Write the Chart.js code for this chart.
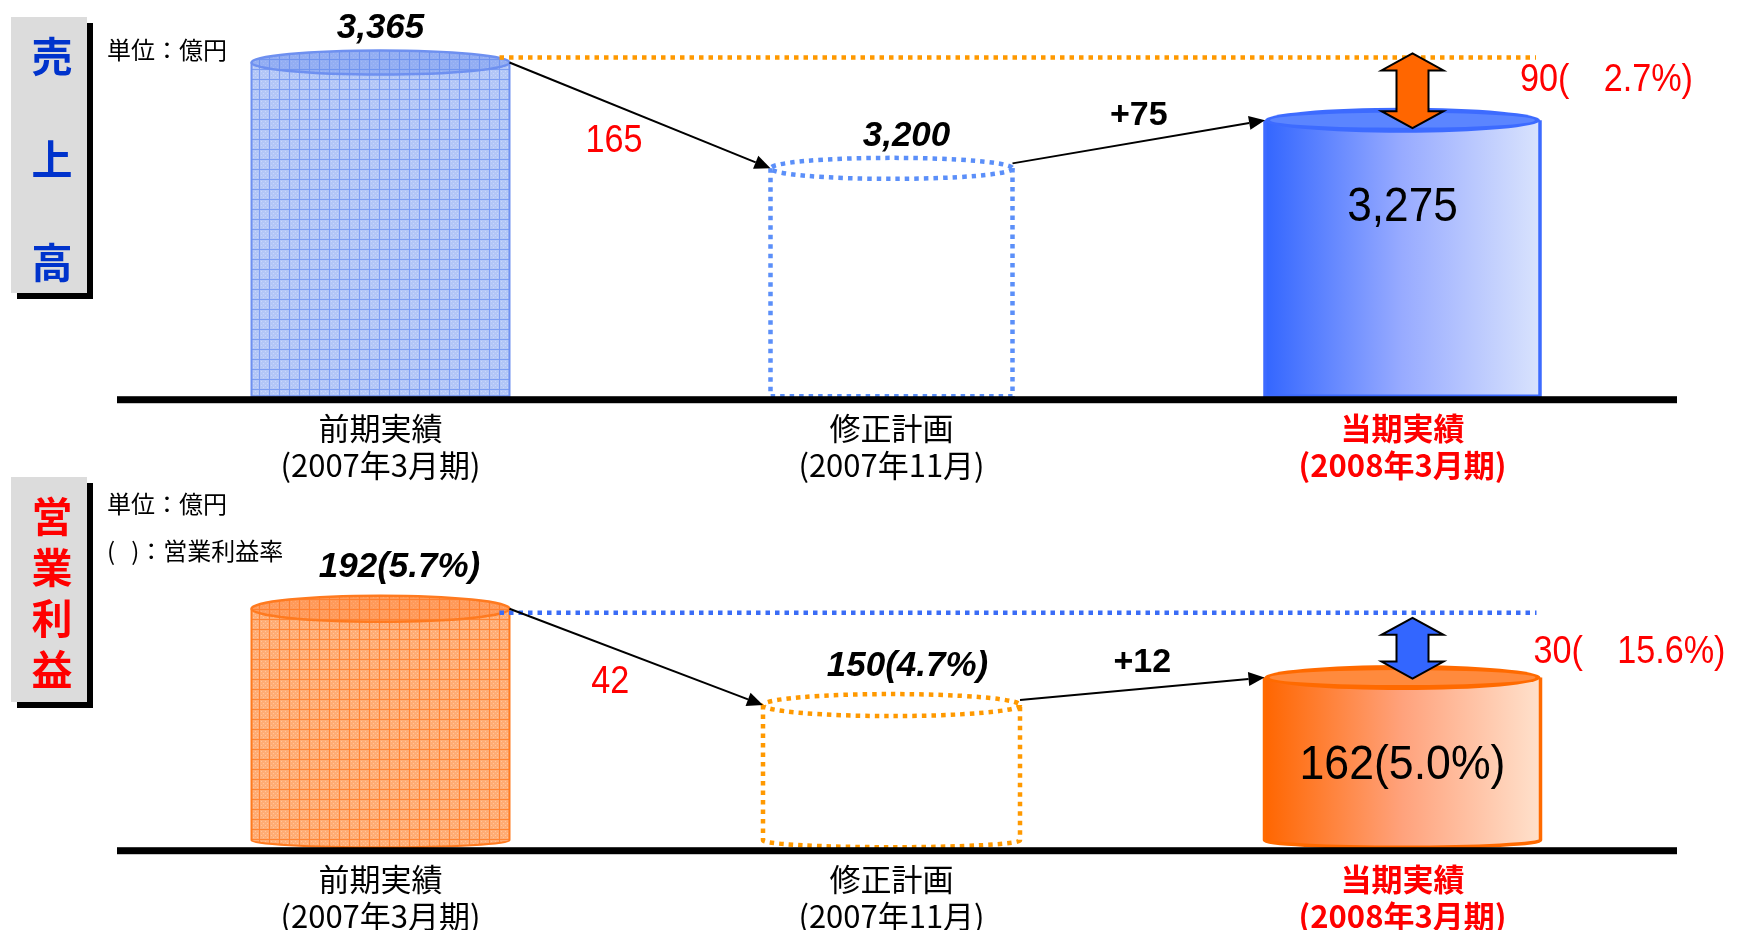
<!DOCTYPE html>
<html lang="ja">
<head>
<meta charset="utf-8">
<title>売上高・営業利益</title>
<script src="https://cdn.jsdelivr.net/npm/chart.js@4.4.1/dist/chart.umd.min.js"></script>
<style>
  html, body { margin: 0; padding: 0; background: #fff; overflow: hidden; width: 1737px; height: 930px; }
  canvas { position: absolute; left: 0; top: 0; }
  .side { position: absolute; left: 11px; width: 76px; background: #dcdcdc; box-shadow: 6px 6px 0 #000;
          font-family: "Noto Sans CJK JP", sans-serif; font-weight: bold; font-size: 41px; text-align: center; z-index: 2; }
  .unit { position: absolute; left: 107px; font-family: "Noto Sans CJK JP", sans-serif; font-size: 24px;
          line-height: 30px; color: #000; z-index: 2; white-space: pre; }
</style>
</head>
<body>
<div class="side" style="top:17px;height:276px;color:#0033cc;">
  <div style="position:relative;top:-14px;left:3px;line-height:103px;">売<br>上<br>高</div>
</div>
<div class="unit" style="top:34px;">単位：億円</div>

<div class="side" style="top:477px;height:225px;color:#ff0000;">
  <div style="position:relative;top:12px;left:3px;line-height:51px;">営<br>業<br>利<br>益</div>
</div>
<div class="unit" style="top:488px;">単位：億円</div>
<div class="unit" style="top:535px;">(   )：営業利益率</div>

<canvas id="sales" width="1737" height="980"></canvas>
<canvas id="profit" width="1737" height="980"></canvas>

<script>
// データ
const categories = [['前期実績', '(2007年3月期)'], ['修正計画', '(2007年11月)'], ['当期実績', '(2008年3月期)']]
const salesValues = [3365, 3200, 3275]      // 売上高 (億円)
const profitValues = [192, 150, 162]        // 営業利益 (億円)
const profitMargins = [5.7, 4.7, 5.0]       // 営業利益率 (%)

const fmt = v => v.toLocaleString('en-US')
const latin = "'Liberation Sans', Arial, 'Noto Sans CJK JP', sans-serif"

// 格子模様
function gridPattern(ctx, fill, dot, line) {
    const c = document.createElement('canvas')
    c.width = 10; c.height = 10
    const g = c.getContext('2d')
    g.fillStyle = fill; g.fillRect(0, 0, 10, 10)
    g.fillStyle = dot
    for (let y = 1; y < 9; y += 2) for (let x = (y % 4 === 1 ? 1 : 3); x < 9; x += 4) g.fillRect(x, y, 1, 1)
    g.fillStyle = line
    g.fillRect(9, 0, 1, 10); g.fillRect(0, 9, 10, 1)
    return ctx.createPattern(c, 'repeat')
}

function label(ctx, text, x, y, font, color, align, sx) {
    ctx.save()
    ctx.font = font
    ctx.fillStyle = color
    ctx.textAlign = align || 'center'
    ctx.textBaseline = 'middle'
    ctx.translate(x, y)
    ctx.scale(sx || 1, 1)
    ctx.fillText(text, 0, 0)
    ctx.restore()
}

function outline(ctx, cx, top, base, rx, bry) {
    ctx.beginPath()
    ctx.moveTo(cx - rx, top)
    ctx.lineTo(cx - rx, base - bry)
    if (bry > 0) ctx.ellipse(cx, base - bry, rx, bry, 0, Math.PI, 0, true)
    else ctx.lineTo(cx + rx, base)
    ctx.lineTo(cx + rx, top)
}

function drawCylinder(ctx, cx, top, base, rx, ry, bry, look) {
    ctx.save()
    if (look.type === 'dotted') {
        ctx.setLineDash([4.5, 5])
        ctx.lineWidth = 4.5
        ctx.strokeStyle = look.color
        outline(ctx, cx, top, base, rx, bry)
        ctx.stroke()
        ctx.beginPath()
        ctx.ellipse(cx, top, rx, ry, 0, 0, Math.PI * 2)
        ctx.stroke()
    } else {
        let fill
        if (look.type === 'pattern') {
            fill = gridPattern(ctx, look.fill, look.dot, look.line)
        } else {
            fill = ctx.createLinearGradient(cx - rx, 0, cx + rx, 0)
            fill.addColorStop(0, look.stops[0])
            fill.addColorStop(0.5, look.stops[1])
            fill.addColorStop(1, look.stops[2])
        }
        outline(ctx, cx, top, base, rx, bry)
        ctx.closePath()
        ctx.fillStyle = fill
        ctx.fill()
        outline(ctx, cx, top, base, rx, bry)
        ctx.lineWidth = look.type === 'pattern' ? 2 : 3.5
        ctx.strokeStyle = look.edge
        ctx.stroke()

        ctx.beginPath()
        ctx.ellipse(cx, top, rx, ry, 0, 0, Math.PI * 2)
        if (look.type === 'pattern') {
            ctx.fillStyle = fill; ctx.fill()
            ctx.fillStyle = look.tint; ctx.fill()
            ctx.lineWidth = 2.5; ctx.strokeStyle = look.edge; ctx.stroke()
        } else {
            ctx.fillStyle = look.edge; ctx.fill()
            ctx.beginPath()
            ctx.ellipse(cx, top, rx - 5, ry * 0.6, 0, 0, Math.PI * 2)
            ctx.fillStyle = look.inner; ctx.fill()
        }
    }
    ctx.restore()
}

function arrow(ctx, x1, y1, x2, y2) {
    const a = Math.atan2(y2 - y1, x2 - x1), len = 16, w = 7
    const bx = x2 - len * Math.cos(a), by = y2 - len * Math.sin(a)
    ctx.save()
    ctx.strokeStyle = '#000'; ctx.lineWidth = 2
    ctx.beginPath(); ctx.moveTo(x1, y1); ctx.lineTo(bx, by); ctx.stroke()
    ctx.fillStyle = '#000'
    ctx.beginPath()
    ctx.moveTo(x2, y2)
    ctx.lineTo(bx + w * Math.sin(a), by - w * Math.cos(a))
    ctx.lineTo(bx - w * Math.sin(a), by + w * Math.cos(a))
    ctx.closePath(); ctx.fill()
    ctx.restore()
}

function doubleArrow(ctx, cx, y1, y2, fill) {
    const hw = 31, sw = 16, hh = 17
    ctx.save()
    ctx.beginPath()
    ctx.moveTo(cx, y1)
    ctx.lineTo(cx + hw, y1 + hh); ctx.lineTo(cx + sw, y1 + hh)
    ctx.lineTo(cx + sw, y2 - hh); ctx.lineTo(cx + hw, y2 - hh)
    ctx.lineTo(cx, y2)
    ctx.lineTo(cx - hw, y2 - hh); ctx.lineTo(cx - sw, y2 - hh)
    ctx.lineTo(cx - sw, y1 + hh); ctx.lineTo(cx - hw, y1 + hh)
    ctx.closePath()
    ctx.fillStyle = fill; ctx.fill()
    ctx.lineWidth = 2; ctx.strokeStyle = '#000'; ctx.stroke()
    ctx.restore()
}

function cylinderPlugin(cfg) {
    return {
        id: 'cylinders',
        afterDatasetsDraw(chart) {
            const ctx = chart.ctx
            const bars = chart.getDatasetMeta(0).data
            const vals = chart.data.datasets[0].data
            const area = chart.chartArea
            const base = area.bottom
            const half = i => cfg.widths[i] / 2

            bars.forEach((b, i) => drawCylinder(ctx, b.x, b.y, base, half(i), cfg.topRy[i], cfg.bottomRy, cfg.looks[i]))

            // 基準線
            ctx.fillStyle = '#000'
            ctx.fillRect(area.left - 8, base, area.width + 27, 7)

            // 前期実績の水準線
            const lineY = bars[0].y + cfg.lineDy
            ctx.save()
            ctx.setLineDash([4.5, 5]); ctx.lineWidth = 4.5; ctx.strokeStyle = cfg.lineColor
            ctx.beginPath()
            ctx.moveTo(bars[0].x + half(0) - 10, lineY)
            ctx.lineTo(bars[2].x + half(2) - 4, lineY)
            ctx.stroke()
            ctx.restore()

            // 矢印
            const a1 = [bars[0].x + half(0), bars[0].y, bars[1].x - half(1), bars[1].y]
            const a2 = [bars[1].x + half(1), bars[1].y - 5, bars[2].x - half(2), bars[2].y]
            arrow(ctx, ...a1)
            arrow(ctx, ...a2)

            const d1 = vals[0] - vals[1], d2 = vals[2] - vals[1], d3 = vals[0] - vals[2]
            const pct = (d3 / vals[0] * 100).toFixed(1)
            label(ctx, fmt(d1), (a1[0] + a1[2]) / 2 - 26, (a1[1] + a1[3]) / 2 + 26, `38px ${latin}`, '#ff0000', 'center', 0.9)
            label(ctx, '+' + fmt(d2), (a2[0] + a2[2]) / 2, (a2[1] + a2[3]) / 2 - 26, `bold 34px ${latin}`, '#000')

            // 差異
            const ay1 = lineY + cfg.arrowDy[0], ay2 = bars[2].y + cfg.arrowDy[1]
            doubleArrow(ctx, bars[2].x + 10, ay1, ay2, cfg.arrowFill)
            label(ctx, `${fmt(d3)}(　${pct}%)`, bars[2].x + half(2) + cfg.diffDx, (ay1 + ay2) / 2 + cfg.diffDy,
                `38px ${latin}`, '#ff0000', 'left', 0.9)

            // 値ラベル
            for (let i = 0; i < 2; i++) {
                label(ctx, cfg.text(i), bars[i].x + cfg.labelDx[i], bars[i].y - cfg.topRy[i] - cfg.labelGap,
                    `italic bold 35px ${latin}`, '#000')
            }
            label(ctx, cfg.text(2), bars[2].x, bars[2].y + 88, `48px ${latin}`, '#000', 'center', cfg.innerScale)
        }
    }
}

function makeChart(id, values, cfg) {
    return new Chart(document.getElementById(id), {
        type: 'bar',
        data: {
            labels: categories,
            datasets: [{ data: values, backgroundColor: 'rgba(0,0,0,0)', borderWidth: 0 }]
        },
        options: {
            responsive: false,
            animation: false,
            layout: { padding: { left: 125, right: 79, top: cfg.padTop, bottom: cfg.padBottom } },
            plugins: { legend: { display: false }, tooltip: { enabled: false } },
            scales: {
                x: {
                    grid: { display: false, drawTicks: false },
                    border: { display: false },
                    ticks: {
                        padding: 14,
                        color: c => c.index === 2 ? '#ff0000' : '#000',
                        font: c => ({ family: "'Noto Sans CJK JP', sans-serif", size: 31, lineHeight: 1.19,
                                      weight: c.index === 2 ? 'bold' : 'normal' })
                    }
                },
                y: { display: false, min: cfg.min, max: cfg.max }
            }
        },
        plugins: [cylinderPlugin(cfg)]
    })
}

// 売上高
makeChart('sales', salesValues, {
    padTop: 40, padBottom: 482, min: 2845, max: 3400,
    widths: [258, 242, 275], topRy: [12, 10.5, 12.5], bottomRy: 0,
    looks: [
        { type: 'pattern', fill: '#b3c7f7', dot: '#c9d7fa', line: '#7d9ef2', edge: '#6e90f0', tint: 'rgba(90,130,235,0.35)' },
        { type: 'dotted', color: '#5b8ff9' },
        { type: 'grad', stops: ['#3366ff', '#98abff', '#d9e3fd'], edge: '#3d6bff', inner: '#5b85ff' }
    ],
    lineColor: '#ff9900', lineDy: -5, arrowFill: '#ff6600', arrowDy: [-4, 8], diffDx: -20, diffDy: -10,
    labelGap: 22, labelDx: [0, 15], innerScale: 0.92,
    text: i => fmt(salesValues[i])
})

// 営業利益
makeChart('profit', profitValues, {
    padTop: 540, padBottom: 31, min: 88, max: 222,
    widths: [258, 257, 276], topRy: [13, 11, 12.5], bottomRy: 7,
    looks: [
        { type: 'pattern', fill: '#ffad75', dot: '#ffc59c', line: '#ff8433', edge: '#ff7a1f', tint: 'rgba(255,120,40,0.35)' },
        { type: 'dotted', color: '#ff9900' },
        { type: 'grad', stops: ['#ff6600', '#ffa27c', '#ffe1cc'], edge: '#ff6a00', inner: '#ff8a3d' }
    ],
    lineColor: '#3a6cf6', lineDy: 4, arrowFill: '#3366ff', arrowDy: [5, 1], diffDx: -7, diffDy: 4,
    labelGap: 28, labelDx: [19, 16], innerScale: 0.93,
    text: i => `${profitValues[i]}(${profitMargins[i].toFixed(1)}%)`
})
</script>
</body>
</html>
